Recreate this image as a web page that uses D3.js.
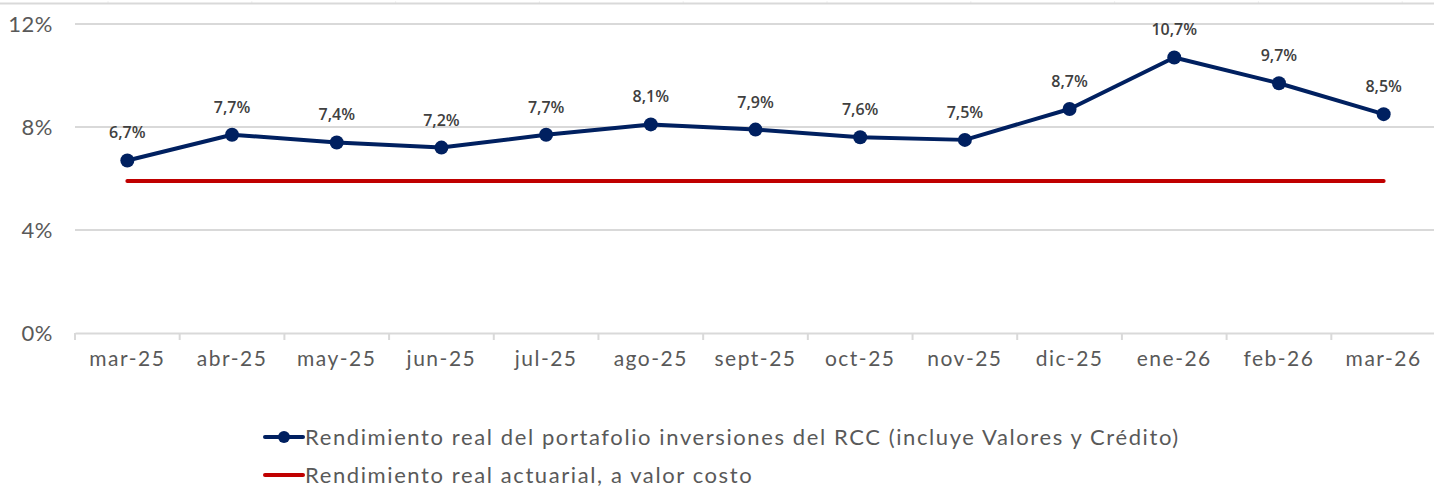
<!DOCTYPE html>
<html>
<head>
<meta charset="utf-8">
<script src="https://cdn.jsdelivr.net/npm/d3@7"></script>
<style>
  body { margin: 0; background: #fff; }
  svg { display: block; }
</style>
</head>
<body>
<div id="chart"></div>
<script>
// data
const months = ["mar-25", "abr-25", "may-25", "jun-25", "jul-25", "ago-25", "sept-25",
                "oct-25", "nov-25", "dic-25", "ene-26", "feb-26", "mar-26"];
const portafolio = [6.7, 7.7, 7.4, 7.2, 7.7, 8.1, 7.9, 7.6, 7.5, 8.7, 10.7, 9.7, 8.5];
const actuarial = [5.9, 5.9, 5.9, 5.9, 5.9, 5.9, 5.9, 5.9, 5.9, 5.9, 5.9, 5.9, 5.9];
const yTicks = [0, 4, 8, 12];
const seriesNames = ["Rendimiento real del portafolio inversiones del RCC (incluye Valores y Crédito)",
                     "Rendimiento real actuarial, a valor costo"];

const width = 1434, height = 487;
const margin = { top: 24, right: -2, bottom: 154, left: 75 };

const svg = d3.select("#chart").append("svg")
  .attr("width", width)
  .attr("height", height);

const tickFont = "Lato, 'DejaVu Sans', sans-serif";

// remnant frame at the very top
svg.append("line")
  .attr("x1", 0).attr("x2", width)
  .attr("y1", 3.5).attr("y2", 3.5)
  .attr("stroke", "#d9d9d9").attr("stroke-width", 2);
const topTicks = d3.range(10).map(i => 108 + i * 143.8);
svg.append("g").selectAll("line").data(topTicks).join("line")
  .attr("x1", d => d).attr("x2", d => d)
  .attr("y1", 1.5).attr("y2", 3)
  .attr("stroke", "#e4e4e4").attr("stroke-width", 1);

const x = d3.scaleBand()
  .domain(months)
  .range([margin.left, width - margin.right])
  .padding(0);

const y = d3.scaleLinear()
  .domain([0, 12])
  .range([height - margin.bottom, margin.top]);

const cx = d => x(d) + x.bandwidth() / 2;

// gridlines
svg.append("g").selectAll("line")
  .data(yTicks.filter(d => d > 0))
  .join("line")
  .attr("x1", margin.left).attr("x2", width)
  .attr("y1", d => y(d)).attr("y2", d => y(d))
  .attr("stroke", "#d9d9d9").attr("stroke-width", 2);

// y labels
svg.append("g").selectAll("text")
  .data(yTicks)
  .join("text")
  .attr("x", 53)
  .attr("y", d => y(d))
  .attr("dy", "0.35em")
  .attr("text-anchor", "end")
  .attr("fill", "#595959")
  .style("font-family", tickFont)
  .style("font-size", "22px")
  .style("letter-spacing", "0.5px")
  .text(d => d + "%");

// x axis
const xAxis = svg.append("g")
  .attr("transform", `translate(0,${y(0)})`)
  .call(d3.axisBottom(x).tickSize(0).tickPadding(18));
xAxis.select(".domain").attr("stroke", "#d9d9d9").attr("stroke-width", 2);
xAxis.selectAll("text")
  .attr("fill", "#595959")
  .style("font-family", tickFont)
  .style("font-size", "21px")
  .style("letter-spacing", "1.5px");
svg.append("g").selectAll("line")
  .data(months)
  .join("line")
  .attr("x1", d => x(d)).attr("x2", d => x(d))
  .attr("y1", y(0)).attr("y2", y(0) + 7)
  .attr("stroke", "#d9d9d9").attr("stroke-width", 2);

// actuarial line
svg.append("path")
  .datum(actuarial)
  .attr("fill", "none")
  .attr("stroke", "#c00000")
  .attr("stroke-width", 4)
  .attr("stroke-linecap", "round")
  .attr("d", d3.line().x((d, i) => cx(months[i])).y(d => y(d)));

// portafolio line
svg.append("path")
  .datum(portafolio)
  .attr("fill", "none")
  .attr("stroke", "#002060")
  .attr("stroke-width", 4)
  .attr("stroke-linejoin", "round")
  .attr("d", d3.line().x((d, i) => cx(months[i])).y(d => y(d)));

svg.append("g").selectAll("circle")
  .data(portafolio)
  .join("circle")
  .attr("cx", (d, i) => cx(months[i]))
  .attr("cy", d => y(d))
  .attr("r", 7)
  .attr("fill", "#002060");

// data labels
svg.append("g").selectAll("text")
  .data(portafolio)
  .join("text")
  .attr("x", (d, i) => cx(months[i]))
  .attr("y", d => y(d) - 22)
  .attr("text-anchor", "middle")
  .attr("fill", "#404040")
  .style("font-family", "'Open Sans', sans-serif")
  .style("font-size", "16px")
  .style("font-weight", 600)
  .text(d => d.toFixed(1).replace(".", ",") + "%");

// legend
const legend = svg.append("g");
const ly = [437, 475];
legend.append("line")
  .attr("x1", 265).attr("x2", 303).attr("y1", ly[0]).attr("y2", ly[0])
  .attr("stroke", "#002060").attr("stroke-width", 4).attr("stroke-linecap", "round");
legend.append("circle")
  .attr("cx", 284).attr("cy", ly[0]).attr("r", 6).attr("fill", "#002060");
legend.append("line")
  .attr("x1", 265).attr("x2", 303).attr("y1", ly[1]).attr("y2", ly[1])
  .attr("stroke", "#c00000").attr("stroke-width", 4).attr("stroke-linecap", "round");
legend.selectAll("text")
  .data(seriesNames)
  .join("text")
  .attr("x", 305)
  .attr("y", (d, i) => ly[i])
  .attr("dy", "0.35em")
  .attr("fill", "#595959")
  .style("font-family", tickFont)
  .style("font-size", "22px")
  .style("letter-spacing", "1.6px")
  .text(d => d);
</script>
</body>
</html>
